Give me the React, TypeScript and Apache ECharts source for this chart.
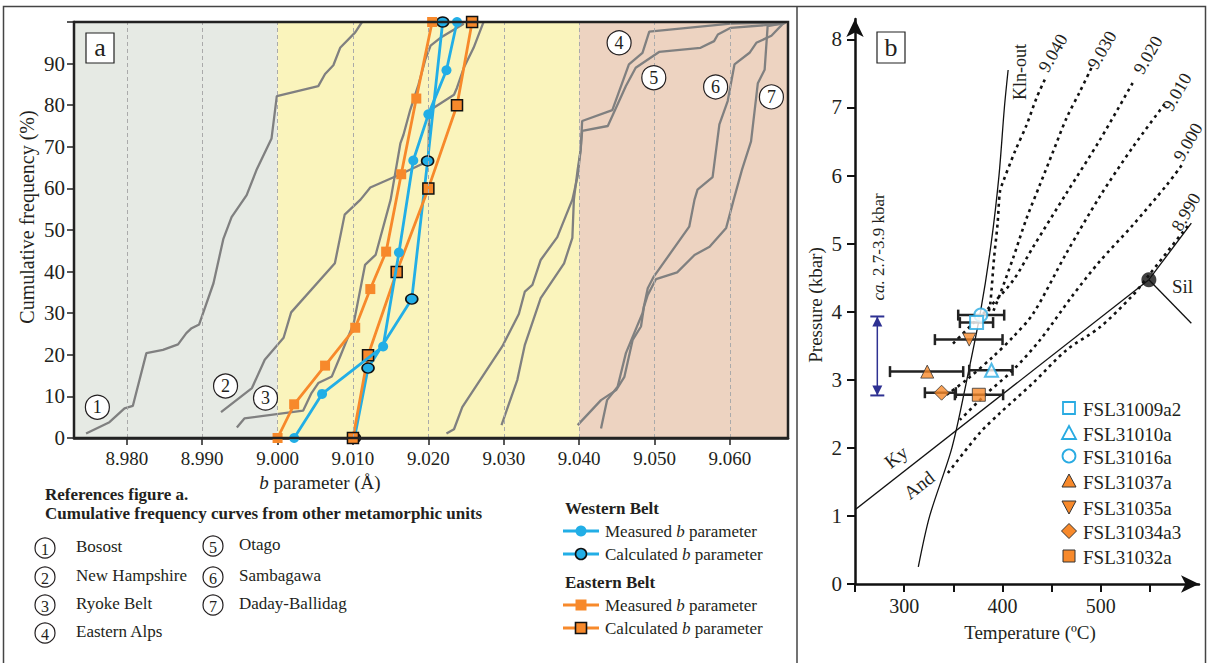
import React, { useEffect, useRef } from 'react';
import * as echarts from 'echarts';

const FONT = "'Liberation Serif', 'Times New Roman', serif";
const INK = '#231f20';
const BLUE = '#22aee6';
const ORANGE = '#f7892b';
const GREY = '#808080';
const CYAN = '#29abe2';
const NAVY = '#2e3192';

// ---------- Panel a data ----------
const bTicks = [8.98, 8.99, 9.0, 9.01, 9.02, 9.03, 9.04, 9.05, 9.06];
const bMin = 8.973;
const bMax = 9.0677;
const bandBounds = [[8.973, 9.0], [9.0, 9.04], [9.04, 9.0677]];
const bandColors = ['#e6eae4', '#faf4bc', '#edd3c1'];

const bosost = [[8.9746,1.1],[8.9777,3.8],[8.9797,7.1],[8.9808,7.7],[8.9826,20.4],[8.9848,21.2],[8.9868,22.5],[8.9879,25.2],[8.9886,26.4],[8.9896,27.3],[8.9915,37.2],[8.9928,47.8],[8.9939,53.1],[8.9959,58.4],[8.9972,64.4],[8.9992,72.0],[8.9999,82.2],[9.0054,84.6],[9.0063,87.5],[9.0074,89.6],[9.0083,93.8],[9.0103,97.5],[9.0112,100]];
const newHampshire = [[8.9925,6.2],[8.9966,12.0],[8.9983,18.8],[9.0008,24.1],[9.0018,30.2],[9.0076,42.0],[9.0089,53.7],[9.0110,57.3],[9.0123,60.2],[9.0163,63.4],[9.0200,66.6],[9.0201,77.7],[9.0203,78.9],[9.0234,82.5],[9.0238,84.2],[9.0247,89.0],[9.0260,93.8],[9.0273,99.9]];
const ryoke = [[8.9946,2.5],[8.9956,4.7],[9.0034,6.6],[9.0045,10.8],[9.0054,13.2],[9.0072,14.8],[9.0083,19.6],[9.0101,27.6],[9.0116,41.6],[9.0130,44.0],[9.0150,57.3],[9.0163,70.9],[9.0167,72.9],[9.0176,78.9],[9.0187,85.0],[9.0196,91.0],[9.0203,94.3],[9.0216,96.2],[9.0247,99.6]];
const easternAlps = [[9.0224,1.1],[9.0234,2.1],[9.0245,7.4],[9.0298,22.0],[9.0320,29.8],[9.0328,35.2],[9.0338,36.8],[9.0349,42.8],[9.0371,48.3],[9.0391,57.3],[9.0398,62.9],[9.0402,69.3],[9.0404,76.2],[9.0444,78.8],[9.0466,89.8],[9.0484,92.6],[9.0493,97.7],[9.0601,99.6],[9.0672,99.9]];
const otago = [[9.0297,3.1],[9.0318,14.0],[9.0328,22.4],[9.0349,33.6],[9.0380,42.0],[9.0391,48.1],[9.0393,57.3],[9.0398,64.5],[9.0402,69.3],[9.0404,73.8],[9.0438,75.0],[9.0462,84.6],[9.0475,89.0],[9.0506,92.8],[9.0561,93.8],[9.0579,95.4],[9.0584,97.0],[9.0601,98.6],[9.0672,99.6]];
const sambagawa = [[9.0429,2.3],[9.0437,9.1],[9.0451,12.3],[9.0462,20.4],[9.0473,25.2],[9.0484,30.0],[9.0491,36.0],[9.0499,38.8],[9.0546,50.8],[9.0553,57.3],[9.0557,59.7],[9.0577,62.7],[9.0586,75.4],[9.0597,81.0],[9.0606,89.8],[9.0626,92.6],[9.0635,95.0],[9.0655,96.7],[9.0672,99.9]];
const dadayBallidag = [[9.0398,3.1],[9.0429,9.1],[9.0449,11.5],[9.0460,14.7],[9.0471,23.6],[9.0482,26.8],[9.0486,31.6],[9.0491,34.4],[9.0502,38.2],[9.0530,39.8],[9.0553,44.0],[9.0573,46.0],[9.0595,50.5],[9.0605,57.3],[9.0616,64.5],[9.0628,71.3],[9.0637,85.3],[9.0646,88.5],[9.0650,99.0],[9.0674,99.8]];
const refCurves = [bosost, newHampshire, ryoke, easternAlps, otago, sambagawa, dadayBallidag];
const refNames = ['Bosost', 'New Hampshire', 'Ryoke Belt', 'Eastern Alps', 'Otago', 'Sambagawa', 'Daday-Ballidag'];
const refLabelPos = [[8.9761,7.4],[8.9931,12.5],[8.9984,9.6],[9.0453,95.0],[9.0499,86.6],[9.0581,84.4],[9.0655,82.0]];

const westMeasured = [[9.0022,0],[9.0059,10.6],[9.0140,22.0],[9.0161,44.6],[9.0180,66.7],[9.0200,77.8],[9.0224,88.4],[9.0238,100]];
const westCalculated = [[9.0102,0],[9.0120,16.8],[9.0178,33.4],[9.0199,66.6],[9.0219,100]];
const eastMeasured = [[9.0000,0],[9.0022,8.1],[9.0063,17.4],[9.0103,26.5],[9.0123,35.8],[9.0144,44.8],[9.0164,63.4],[9.0184,81.6],[9.0205,100]];
const eastCalculated = [[9.0100,0],[9.0120,19.9],[9.0158,39.9],[9.0200,60.0],[9.0238,80.0],[9.0258,100]];

// ---------- Panel b data ----------
const tTicks = [250, 300, 350, 400, 450, 500, 550];
const tLabels = [300, 400, 500];
const pTicks = [0, 1, 2, 3, 4, 5, 6, 7, 8];
const klnOut = [[314.4,0.25],[326,1.0],[348.6,2.0],[363.8,3.0],[377.7,4.0],[388.5,5.0],[396.5,6.0],[402,7.0],[405.8,7.55]];
const triplePoint = [549, 4.47];
const kyAnd = [[250,1.09],[549,4.47]];
const kySil = [[549,4.47],[592.2,5.30]];
const andSil = [[549,4.47],[592.2,3.83]];
const iso9040 = [[443.1,7.41],[434.7,7.14],[424.5,6.74],[412.6,6.35],[400.7,5.91],[397.5,5.77],[395,5.28],[391.5,4.79],[387.5,4.1],[385,3.95]];
const iso9030 = [[490.5,7.58],[478.7,7.23],[465.1,6.84],[451.5,6.35],[438,5.86],[424.5,5.37],[410.9,4.79],[397.4,4.25],[390.5,4.0]];
const iso9020 = [[532.5,7.36],[499,6.52],[465.1,5.74],[431.2,4.95],[410.9,4.46],[383.8,4.02],[370.2,3.83],[348.3,3.51]];
const iso9010 = [[565,7.05],[532.8,6.42],[499,5.69],[465.1,4.86],[431.2,3.97],[410.9,3.63],[390.5,3.34],[363.5,3.0],[343.2,2.78]];
const iso9000 = [[582.3,6.15],[567.1,5.86],[532.5,5.27],[499,4.74],[471.5,4.24],[438,3.58],[410.6,3.14],[384.1,2.8],[356.7,2.41]];
const iso8990 = [[588.4,5.26],[549.8,4.55],[532.5,4.24],[499,3.77],[465.4,3.44],[430.9,2.95],[397.4,2.51],[377,2.22],[344.5,1.63]];
const isopleths = [iso9040, iso9030, iso9020, iso9010, iso9000, iso8990];

const sampleNames = ['FSL31009a2', 'FSL31010a', 'FSL31016a', 'FSL31037a', 'FSL31035a', 'FSL31034a3', 'FSL31032a'];
const sampleT = [373.7, 388.9, 378.0, 323.5, 366.2, 338.1, 376.0];
const sampleP = [3.84, 3.14, 3.95, 3.12, 3.59, 2.81, 2.78];
const sampleTmin = [356.7, 366.2, 355.0, 285.6, 331.3, 321.1, 351.6];
const sampleTmax = [390.5, 410.3, 401.8, 360.1, 400.1, 352.6, 400.7];
const pressureRange = [272.7, 2.77, 3.93];

const sampleSymbol = ['rect', 'triangle', 'circle', 'triangle', 'triangle', 'diamond', 'rect'];
const sampleRotate = [0, 0, 0, 0, 180, 0, 0];
const sampleOpen = [true, true, true, false, false, false, false];
const drawOrder = [2, 0, 1, 3, 4, 5, 6];

function txt(text: string, x: number, y: number, o: any = {}) {
  return {
    type: 'text', x, y, rotation: o.rot || 0, z: 100, silent: true,
    style: {
      text, fontFamily: FONT, fontSize: o.size || 17, fontWeight: o.bold ? 'bold' : 'normal',
      fontStyle: o.italic ? 'italic' : 'normal',
      fill: o.color || INK, align: o.align || 'left', verticalAlign: 'middle', rich: o.rich,
    },
  };
}
const italicRich = (size: number) => ({ i: { fontStyle: 'italic', fontFamily: FONT, fontSize: size, fill: INK } });

function buildGraphics() {
  const g: any[] = [];
  g.push({ type: 'polyline', z: 100, silent: true, shape: { points: [[3.5, 663], [3.5, 6.5], [1205.5, 6.5], [1205.5, 663]] }, style: { fill: 'none', stroke: '#444', lineWidth: 1.5 } });
  g.push({ type: 'line', z: 100, silent: true, shape: { x1: 797, y1: 6.5, x2: 797, y2: 663 }, style: { stroke: '#444', lineWidth: 1.5 } });
  g.push({ type: 'rect', z: 60, silent: true, shape: { x: 74, y: 22, width: 714, height: 416 }, style: { fill: 'none', stroke: '#222', lineWidth: 2.5 } });
  g.push({ type: 'rect', z: 70, silent: true, shape: { x: 86, y: 33, width: 28, height: 30 }, style: { fill: '#fff', stroke: '#222', lineWidth: 1.2 } });
  g.push(txt('a', 100, 47, { size: 26, align: 'center' }));
  g.push(txt('Cumulative frequency (%)', 27, 217, { size: 20, align: 'center', rot: Math.PI / 2 }));
  g.push(txt('{i|b} parameter (Å)', 320, 482, { size: 19, align: 'center', rich: italicRich(19) }));
  g.push(txt('References figure a.', 45, 494, { size: 17, bold: true }));
  g.push(txt('Cumulative frequency curves from other metamorphic units', 45, 513, { size: 17, bold: true }));
  const refLegendPos = [[45, 548], [45, 577], [45, 605], [45, 633], [213, 546], [213, 577], [213, 605]];
  refNames.forEach((n, i) => {
    const [cx, cy] = refLegendPos[i];
    g.push({ type: 'circle', z: 90, silent: true, shape: { cx, cy, r: 10 }, style: { fill: '#fff', stroke: INK, lineWidth: 1.2 } });
    g.push(txt(String(i + 1), cx, cy + 1, { size: 16, align: 'center' }));
    g.push(txt(n, cx + (i < 4 ? 31 : 26), cy - 2, { size: 17 }));
  });
  const beltRows = [
    { y: 531, color: BLUE, shape: 'circle', border: false, label: 'Measured' },
    { y: 554, color: BLUE, shape: 'circle', border: true, label: 'Calculated' },
    { y: 605, color: ORANGE, shape: 'rect', border: false, label: 'Measured' },
    { y: 628, color: ORANGE, shape: 'rect', border: true, label: 'Calculated' },
  ];
  g.push(txt('Western Belt', 565, 508, { size: 17, bold: true }));
  g.push(txt('Eastern Belt', 565, 582, { size: 17, bold: true }));
  beltRows.forEach((r) => {
    g.push({ type: 'line', z: 90, silent: true, shape: { x1: 563, y1: r.y, x2: 599, y2: r.y }, style: { stroke: r.color, lineWidth: 3 } });
    const st = { fill: r.color, stroke: r.border ? '#111' : r.color, lineWidth: r.border ? 1.6 : 0 };
    if (r.shape === 'circle') g.push({ type: 'circle', z: 91, silent: true, shape: { cx: 581, cy: r.y, r: 5.5 }, style: st });
    else g.push({ type: 'rect', z: 91, silent: true, shape: { x: 575.5, y: r.y - 5.5, width: 11, height: 11 }, style: st });
    g.push(txt(r.label + ' {i|b} parameter', 605, r.y, { size: 17, rich: italicRich(17) }));
  });

  g.push({ type: 'rect', z: 70, silent: true, shape: { x: 877, y: 32, width: 28, height: 31 }, style: { fill: '#fff', stroke: '#222', lineWidth: 1.2 } });
  g.push(txt('b', 891, 47, { size: 26, align: 'center' }));
  g.push(txt('Pressure (kbar)', 815, 305, { size: 19, align: 'center', rot: Math.PI / 2 }));
  g.push(txt('Temperature (ºC)', 1030, 632, { size: 19, align: 'center' }));
  g.push(txt('{i|ca.} 2.7-3.9 kbar', 878, 247, { size: 17, align: 'center', rot: Math.PI / 2, rich: italicRich(17) }));
  g.push(txt('Kln-out', 1020, 72, { size: 18, align: 'center', rot: Math.PI / 2 }));
  const isoLabels = [['9.040', 1053, 53], ['9.030', 1102, 50], ['9.020', 1148, 55], ['9.010', 1177, 92], ['9.000', 1188, 142], ['8.990', 1186, 212]];
  isoLabels.forEach(([t, x, y]) => g.push(txt(t as string, x as number, y as number, { size: 18, align: 'center', rot: 1.05 })));
  g.push(txt('Sil', 1172, 286, { size: 19 }));
  g.push(txt('Ky', 896, 457, { size: 19, align: 'center', rot: 0.66 }));
  g.push(txt('And', 919, 485, { size: 19, align: 'center', rot: 0.66 }));
  const ly = [408, 433, 456, 481, 507, 531, 556];
  const lx = 1069;
  sampleNames.forEach((n, i) => {
    const y = ly[i];
    const st = sampleOpen[i] ? { fill: '#fff', stroke: CYAN, lineWidth: 1.8 } : { fill: ORANGE, stroke: '#333', lineWidth: 1 };
    let el: any;
    if (sampleSymbol[i] === 'rect') el = { type: 'rect', shape: { x: lx - 6, y: y - 6, width: 12, height: 12 } };
    else if (sampleSymbol[i] === 'circle') el = { type: 'circle', shape: { cx: lx, cy: y, r: 6.5 } };
    else if (sampleSymbol[i] === 'diamond') el = { type: 'polygon', shape: { points: [[lx, y - 7.5], [lx + 7.5, y], [lx, y + 7.5], [lx - 7.5, y]] } };
    else if (sampleRotate[i] === 180) el = { type: 'polygon', shape: { points: [[lx - 7, y - 6], [lx + 7, y - 6], [lx, y + 7]] } };
    else el = { type: 'polygon', shape: { points: [[lx, y - 7], [lx + 7, y + 6], [lx - 7, y + 6]] } };
    g.push({ ...el, z: 90, silent: true, style: st });
    g.push(txt(n, 1083, y + 1, { size: 19 }));
  });
  return g;
}

export default function App() {
  const ref = useRef<HTMLDivElement>(null);
  useEffect(() => {
    if (!ref.current) return;
    const chart = echarts.init(ref.current, null, { renderer: 'svg' });
    const axisFont = { fontFamily: FONT, color: INK };
    const series: any[] = [];
    series.push({
      type: 'line', xAxisIndex: 0, yAxisIndex: 0, data: [[bMin, 0]], symbol: 'none', silent: true, z: 1,
      markArea: {
        silent: true,
        data: bandBounds.map((b, i) => [{ xAxis: b[0], itemStyle: { color: bandColors[i], opacity: 1 } }, { xAxis: b[1] }]),
      },
      markLine: {
        silent: true, symbol: ['none', 'none'], label: { show: false },
        lineStyle: { type: [4, 3], color: '#aaaaaa', width: 1 },
        data: bTicks.map((v) => ({ xAxis: v })),
      },
    });
    refCurves.forEach((d, i) => series.push({
      type: 'line', name: refNames[i], xAxisIndex: 0, yAxisIndex: 0, data: d, symbol: 'none', silent: true, z: 2,
      lineStyle: { color: GREY, width: 2.3 },
    }));
    series.push({ type: 'line', name: 'West calculated', xAxisIndex: 0, yAxisIndex: 0, data: westCalculated, z: 4, symbol: 'circle', symbolSize: [12, 10], itemStyle: { color: BLUE, borderColor: '#111', borderWidth: 1.5 }, lineStyle: { color: BLUE, width: 2.8 } });
    series.push({ type: 'line', name: 'East calculated', xAxisIndex: 0, yAxisIndex: 0, data: eastCalculated, z: 4, symbol: 'rect', symbolSize: 11, itemStyle: { color: ORANGE, borderColor: '#111', borderWidth: 1.5 }, lineStyle: { color: ORANGE, width: 2.8 } });
    series.push({ type: 'line', name: 'West measured', xAxisIndex: 0, yAxisIndex: 0, data: westMeasured, z: 5, symbol: 'circle', symbolSize: 10, itemStyle: { color: BLUE }, lineStyle: { color: BLUE, width: 2.8 } });
    series.push({ type: 'line', name: 'East measured', xAxisIndex: 0, yAxisIndex: 0, data: eastMeasured, z: 5, symbol: 'rect', symbolSize: 10, itemStyle: { color: ORANGE }, lineStyle: { color: ORANGE, width: 2.8 } });
    series.push({
      type: 'scatter', xAxisIndex: 0, yAxisIndex: 0, z: 10, silent: true,
      data: refLabelPos.map((p, i) => ({ value: p, name: String(i + 1) })),
      symbol: 'circle', symbolSize: 24, itemStyle: { color: '#fff', borderColor: INK, borderWidth: 1.2, opacity: 1 },
      label: { show: true, position: 'inside', formatter: '{b}', fontFamily: FONT, fontSize: 18, color: INK },
    });

    const solid = { color: '#111', width: 1.3 };
    [klnOut, kyAnd, kySil, andSil].forEach((d, i) => series.push({
      type: 'line', xAxisIndex: 1, yAxisIndex: 1, data: d, symbol: 'none', silent: true, z: 3, smooth: i === 0 ? 0.3 : false,
      lineStyle: solid,
    }));
    isopleths.forEach((d) => series.push({
      type: 'line', xAxisIndex: 1, yAxisIndex: 1, data: d, symbol: 'none', silent: true, z: 3, smooth: 0.3,
      lineStyle: { color: '#111', width: 2.6, type: [3, 4] },
    }));
    series.push({ type: 'scatter', xAxisIndex: 1, yAxisIndex: 1, data: [triplePoint], symbol: 'circle', symbolSize: 15, itemStyle: { color: '#111' }, z: 4, silent: true });
    series.push({
      type: 'custom', xAxisIndex: 1, yAxisIndex: 1, z: 5, silent: true,
      data: sampleNames.map((n, i) => [sampleT[i], sampleP[i], sampleTmin[i], sampleTmax[i]]),
      encode: { x: [0, 2, 3], y: 1 },
      renderItem: (params: any, api: any) => {
        const p = api.value(1);
        const a = api.coord([api.value(2), p]);
        const b = api.coord([api.value(3), p]);
        const h = 5.5;
        const st = { stroke: '#222', lineWidth: 2.5 };
        return {
          type: 'group', children: [
            { type: 'line', shape: { x1: a[0], y1: a[1], x2: b[0], y2: b[1] }, style: st },
            { type: 'line', shape: { x1: a[0], y1: a[1] - h, x2: a[0], y2: a[1] + h }, style: st },
            { type: 'line', shape: { x1: b[0], y1: b[1] - h, x2: b[0], y2: b[1] + h }, style: st },
          ],
        };
      },
    });
    series.push({
      type: 'scatter', xAxisIndex: 1, yAxisIndex: 1, z: 6, silent: true, symbolSize: 13,
      data: drawOrder.map((i) => ({
        name: sampleNames[i], value: [sampleT[i], sampleP[i]], symbol: sampleSymbol[i], symbolRotate: sampleRotate[i],
        symbolSize: sampleSymbol[i] === 'diamond' ? 15 : 13,
        itemStyle: sampleOpen[i] ? { color: '#fff', borderColor: CYAN, borderWidth: 2 } : { color: ORANGE, borderColor: '#333', borderWidth: 1 },
      })),
    });
    series.push({
      type: 'custom', xAxisIndex: 1, yAxisIndex: 1, z: 5, silent: true,
      data: [pressureRange], encode: { x: 0, y: [1, 2] },
      renderItem: (params: any, api: any) => {
        const lo = api.coord([api.value(0), api.value(1)]);
        const hi = api.coord([api.value(0), api.value(2)]);
        const w = 7, ah = 10, hw = 5;
        return {
          type: 'group', children: [
            { type: 'line', shape: { x1: lo[0], y1: lo[1], x2: hi[0], y2: hi[1] }, style: { stroke: NAVY, lineWidth: 1.5 } },
            { type: 'line', shape: { x1: hi[0] - w, y1: hi[1], x2: hi[0] + w, y2: hi[1] }, style: { stroke: NAVY, lineWidth: 2 } },
            { type: 'line', shape: { x1: lo[0] - w, y1: lo[1], x2: lo[0] + w, y2: lo[1] }, style: { stroke: NAVY, lineWidth: 2 } },
            { type: 'polygon', shape: { points: [[hi[0], hi[1]], [hi[0] - hw, hi[1] + ah], [hi[0] + hw, hi[1] + ah]] }, style: { fill: NAVY } },
            { type: 'polygon', shape: { points: [[lo[0], lo[1]], [lo[0] - hw, lo[1] - ah], [lo[0] + hw, lo[1] - ah]] }, style: { fill: NAVY } },
          ],
        };
      },
    });

    const option: any = {
      animation: false,
      backgroundColor: '#ffffff',
      textStyle: { fontFamily: FONT },
      grid: [
        { left: 74, top: 22, width: 714, height: 416 },
        { left: 855, top: 19, width: 344, height: 565 },
      ],
      xAxis: [
        {
          gridIndex: 0, type: 'value', min: bMin, max: bMax,
          axisLine: { show: true, onZero: false, lineStyle: { color: '#222', width: 2.5 } },
          axisTick: { show: true, length: 7, customValues: bTicks, lineStyle: { color: '#222', width: 1.5 } },
          axisLabel: { customValues: bTicks, formatter: (v: number) => v.toFixed(3), fontSize: 19, margin: 11, ...axisFont },
          splitLine: { show: false },
        },
        {
          gridIndex: 1, type: 'value', min: 250, max: 600,
          axisLine: { show: true, onZero: false, lineStyle: { color: '#111', width: 2.5 }, symbol: ['none', 'arrow'], symbolSize: [13, 18] },
          axisTick: { show: true, length: 8, customValues: tTicks, lineStyle: { color: '#111', width: 2 } },
          axisLabel: { customValues: tLabels, fontSize: 20, margin: 12, ...axisFont },
          splitLine: { show: false },
        },
      ],
      yAxis: [
        {
          gridIndex: 0, type: 'value', min: 0, max: 100, interval: 10,
          axisLine: { show: true, onZero: false, lineStyle: { color: '#222', width: 2.5 } },
          axisTick: { show: true, length: 7, lineStyle: { color: '#222', width: 1.5 } },
          axisLabel: { formatter: (v: number) => (v === 100 ? '' : String(v)), fontSize: 21, margin: 9, ...axisFont },
          splitLine: { show: false },
        },
        {
          gridIndex: 1, type: 'value', min: 0, max: 8.3,
          axisLine: { show: true, onZero: false, lineStyle: { color: '#111', width: 2.5 }, symbol: ['none', 'arrow'], symbolSize: [13, 18] },
          axisTick: { show: true, length: 8, customValues: pTicks, lineStyle: { color: '#111', width: 2 } },
          axisLabel: { customValues: pTicks, fontSize: 21, margin: 13, ...axisFont },
          splitLine: { show: false },
        },
      ],
      series,
      graphic: buildGraphics(),
    };
    chart.setOption(option);
    return () => chart.dispose();
  }, []);
  return <div ref={ref} style={{ position: 'fixed', left: 0, top: 0, width: 1207, height: 663, background: '#fff' }} />;
}
